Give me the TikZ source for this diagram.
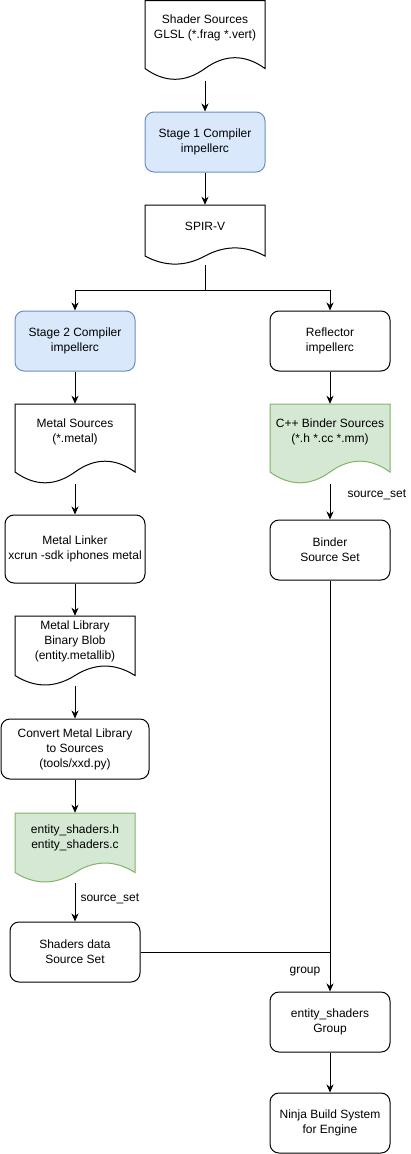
\documentclass[tikz,border=0pt]{standalone}
\usepackage{fontspec}
\setmainfont{Liberation Sans}
\usetikzlibrary{arrows.meta,calc}
\definecolor{bluefill}{HTML}{DAE8FC}
\definecolor{bluedraw}{HTML}{6C8EBF}
\definecolor{greenfill}{HTML}{D5E8D4}
\definecolor{greendraw}{HTML}{82B366}
% name, left, top, height, fill, draw
\newcommand{\docshape}[6]{%
  \node[docbb, minimum height=#4pt] (#1) at ({#2+60},{#3+#4/2}) {};
  \filldraw[fill=#5, draw=#6, line width=1pt]
    (#2,#3) -- ({#2+120},#3) -- ({#2+120},{#3+0.85*#4})
    .. controls ({#2+100},{#3+0.67*#4}) and ({#2+80},{#3+0.67*#4}) .. ({#2+60},{#3+0.85*#4})
    .. controls ({#2+40},{#3+1.03*#4}) and ({#2+20},{#3+1.03*#4}) .. (#2,{#3+0.85*#4}) -- cycle;
}
\begin{document}
\begin{tikzpicture}[x=1pt,y=-1pt,
  font=\fontsize{12}{15}\selectfont,
  proc/.style={draw=black, line width=1pt, rounded corners=9pt, minimum width=120pt,
    minimum height=60pt, align=center, inner sep=0pt, fill=white},
  blueproc/.style={proc, fill=bluefill, draw=bluedraw},
  docbb/.style={minimum width=120pt, inner sep=0pt, draw=none},
  doctext/.style={align=center, inner sep=0pt},
  arr/.style={line width=1pt, -{Stealth[length=8pt,width=7pt,inset=2.5pt]}},
  conn/.style={line width=1pt},
  lbl/.style={inner sep=0pt, anchor=west}]
\useasboundingbox (0,0) rectangle (411,1154);

% documents
\docshape{ss}{145}{0.5}{80}{white}{black}
\node[doctext] (ss-t) at (205,28) {Shader Sources\\GLSL (*.frag *.vert)};

\node[blueproc] (st1) at (205,142) {Stage 1 Compiler\\impellerc};

\docshape{spirv}{145}{205}{60}{white}{black}
\node[doctext] (spirv-t) at (205,226) {SPIR-V};

\coordinate (j) at (205,290);

\node[blueproc] (st2) at (75,341) {Stage 2 Compiler\\impellerc};
\node[proc] (refl) at (330,341) {Reflector\\impellerc};

\docshape{msrc}{15}{404}{80}{white}{black}
\node[doctext] (msrc-t) at (75,432) {Metal Sources\\(*.metal)};

\docshape{cpp}{270}{404}{80}{greenfill}{greendraw}
\node[doctext] (cpp-t) at (330,432) {C++ Binder Sources\\(*.h *.cc *.mm)};

\node[proc, minimum width=140pt, minimum height=68pt] (link) at (75,549) {Metal Linker\\xcrun -sdk iphones metal};

\docshape{mlib}{15}{616}{70}{white}{black}
\node[doctext] (mlib-t) at (75,641) {Metal Library\\Binary Blob\\(entity.metallib)};

\node[proc, minimum width=148pt] (conv) at (75,749) {Convert Metal Library\\to Sources\\(tools/xxd.py)};

\docshape{esh}{15}{813}{70}{greenfill}{greendraw}
\node[doctext] (esh-t) at (75,838) {entity\_shaders.h\\entity\_shaders.c};

\node[proc, minimum width=130pt] (sds) at (75,952) {Shaders data\\Source Set};

\node[proc] (bss) at (330,550) {Binder\\Source Set};
\node[proc] (grp) at (330,1022) {entity\_shaders\\Group};
\node[proc] (ninja) at (330,1123) {Ninja Build System\\for Engine};

% connectors
\draw[arr] (ss.south) -- (st1.north);
\draw[arr] (st1.south) -- (spirv.north);
\draw[conn] (spirv.south) -- (j);
\draw[arr] (j) -| (st2.north);
\draw[arr] (j) -| (refl.north);
\draw[arr] (st2.south) -- (msrc.north);
\draw[arr] (refl.south) -- (cpp.north);
\draw[arr] (msrc.south) -- (link.north);
\draw[arr] (link.south) -- (mlib.north);
\draw[arr] (mlib.south) -- (conv.north);
\draw[arr] (conv.south) -- (esh.north);
\draw[arr] (esh.south) -- (sds.north) node[lbl, pos=0.42, xshift=5pt] (l1) {source\_set};
\draw[arr] (cpp.south) -- (bss.north) node[lbl, pos=0.3, xshift=17pt] (l2) {source\_set};
\draw[arr] (bss.south) -- (grp.north);
\draw[conn] (sds.east) -- (sds.east -| grp.north);
\node[inner sep=0pt] (l3) at (305,972) {group};
\draw[arr] (grp.south) -- (ninja.north);
\end{tikzpicture}
\end{document}
